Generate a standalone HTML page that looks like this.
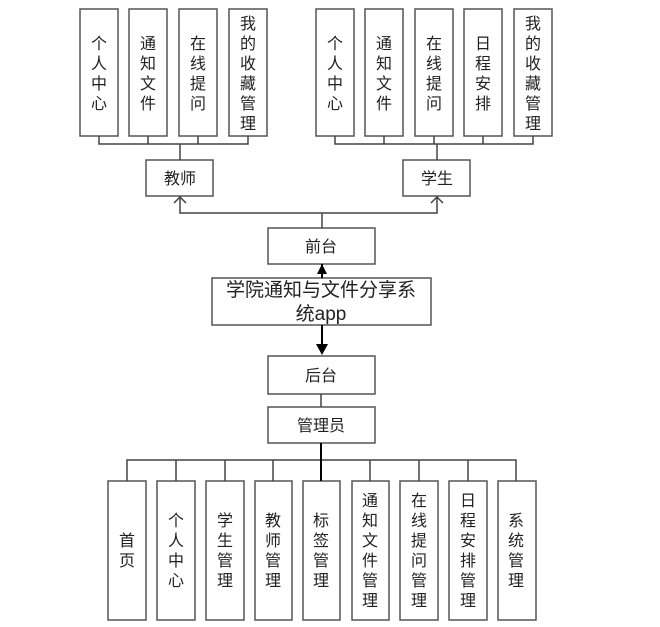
<!DOCTYPE html>
<html><head><meta charset="utf-8"><style>
html,body{margin:0;padding:0;background:#fff;}
svg{display:block;}
text{font-family:"Liberation Sans","Noto Sans CJK SC",sans-serif;fill:#222;}
</style></head><body>
<svg width="660" height="627" viewBox="0 0 660 627" xmlns="http://www.w3.org/2000/svg">
<g fill="#fff" stroke="#555" stroke-width="1.5">
<!-- top left boxes -->
<rect x="80" y="9" width="38" height="127"/>
<rect x="129" y="9" width="38" height="127"/>
<rect x="179" y="9" width="38" height="127"/>
<rect x="229" y="9" width="38" height="127"/>
<!-- top right -->
<rect x="316" y="9" width="38" height="127"/>
<rect x="365" y="9" width="38" height="127"/>
<rect x="415" y="9" width="38" height="127"/>
<rect x="464" y="9" width="38" height="127"/>
<rect x="514" y="9" width="38" height="127"/>
<rect x="146" y="160" width="67" height="36"/>
<rect x="403" y="160" width="67" height="36"/>
<rect x="268" y="228" width="107" height="36"/>
<rect x="212" y="278" width="219" height="47"/>
<rect x="268" y="356" width="107" height="38"/>
<rect x="268" y="407" width="107" height="36"/>
<rect x="108" y="481" width="38" height="139"/>
<rect x="157" y="481" width="38" height="139"/>
<rect x="206" y="481" width="38" height="139"/>
<rect x="255" y="481" width="37" height="139"/>
<rect x="303" y="481" width="37" height="139"/>
<rect x="352" y="481" width="37" height="139"/>
<rect x="400" y="481" width="38" height="139"/>
<rect x="449" y="481" width="38" height="139"/>
<rect x="498" y="481" width="38" height="139"/>
</g>
<g fill="none" stroke="#444" stroke-width="1.5">
<path d="M99 136V144H248V136M148 136V144M198 136V144M180 144V160"/>
<path d="M335 136V144H533V136M384 136V144M434 136V144M483 136V144M437 144V160"/>
<path d="M180 196V213H437V196M322 213V228"/>
<path d="M174 203L180 197L186 203M431 203L437 197L443 203"/>
<path d="M321 394V407M321 443V460M127 481V460H516V481M176 460V481M225 460V481M273 460V481M370 460V481M419 460V481M468 460V481"/>
</g>
<g stroke="#000" stroke-width="2"><path d="M322 264V278M322 325V345"/><path d="M321 443V481"/></g>
<path d="M322 264L317 274H327Z" fill="#000"/>
<path d="M322 355L316 344H328Z" fill="#000"/>
<g font-size="16" text-anchor="middle">
<text x="180" y="184">教师</text>
<text x="437" y="184">学生</text>
<text x="321" y="252">前台</text>
<text x="321" y="381">后台</text>
<text x="321" y="431">管理员</text>
</g>
<g font-size="19" text-anchor="middle">
<text x="321" y="296">学院通知与文件分享系</text>
<text x="321" y="320">统app</text>
</g>
<g font-size="16" text-anchor="middle">
<!-- top left -->
<g transform="translate(99,0)"><text y="49">个</text><text y="69">人</text><text y="89">中</text><text y="109">心</text></g>
<g transform="translate(148,0)"><text y="49">通</text><text y="69">知</text><text y="89">文</text><text y="109">件</text></g>
<g transform="translate(198,0)"><text y="49">在</text><text y="69">线</text><text y="89">提</text><text y="109">问</text></g>
<g transform="translate(248,0)"><text y="29">我</text><text y="49">的</text><text y="69">收</text><text y="89">藏</text><text y="109">管</text><text y="129">理</text></g>
<g transform="translate(335,0)"><text y="49">个</text><text y="69">人</text><text y="89">中</text><text y="109">心</text></g>
<g transform="translate(384,0)"><text y="49">通</text><text y="69">知</text><text y="89">文</text><text y="109">件</text></g>
<g transform="translate(434,0)"><text y="49">在</text><text y="69">线</text><text y="89">提</text><text y="109">问</text></g>
<g transform="translate(483,0)"><text y="49">日</text><text y="69">程</text><text y="89">安</text><text y="109">排</text></g>
<g transform="translate(533,0)"><text y="29">我</text><text y="49">的</text><text y="69">收</text><text y="89">藏</text><text y="109">管</text><text y="129">理</text></g>
<!-- bottom -->
<g transform="translate(127,0)"><text y="546">首</text><text y="566">页</text></g>
<g transform="translate(176,0)"><text y="526">个</text><text y="546">人</text><text y="566">中</text><text y="586">心</text></g>
<g transform="translate(225,0)"><text y="526">学</text><text y="546">生</text><text y="566">管</text><text y="586">理</text></g>
<g transform="translate(273,0)"><text y="526">教</text><text y="546">师</text><text y="566">管</text><text y="586">理</text></g>
<g transform="translate(321,0)"><text y="526">标</text><text y="546">签</text><text y="566">管</text><text y="586">理</text></g>
<g transform="translate(370,0)"><text y="506">通</text><text y="526">知</text><text y="546">文</text><text y="566">件</text><text y="586">管</text><text y="606">理</text></g>
<g transform="translate(419,0)"><text y="506">在</text><text y="526">线</text><text y="546">提</text><text y="566">问</text><text y="586">管</text><text y="606">理</text></g>
<g transform="translate(468,0)"><text y="506">日</text><text y="526">程</text><text y="546">安</text><text y="566">排</text><text y="586">管</text><text y="606">理</text></g>
<g transform="translate(516,0)"><text y="526">系</text><text y="546">统</text><text y="566">管</text><text y="586">理</text></g>
</g>
</svg>
</body></html>
